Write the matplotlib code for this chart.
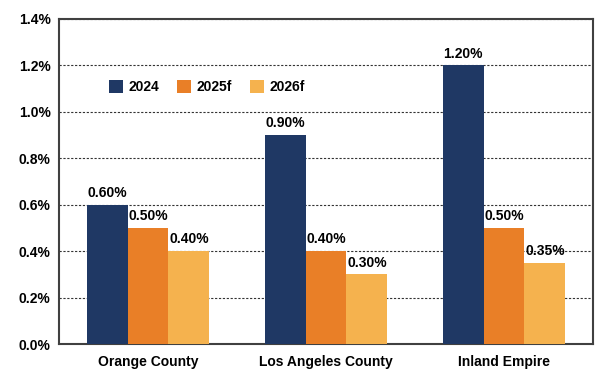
import numpy as np
import matplotlib.pyplot as plt
from matplotlib.ticker import FuncFormatter

plt.rcParams['font.family'] = ['Liberation Sans', 'DejaVu Sans']
plt.rcParams['font.weight'] = 'bold'

regions = ['Orange County', 'Los Angeles County', 'Inland Empire']
years = ['2024', '2025f', '2026f']
v2024 = [0.60, 0.90, 1.20]
v2025 = [0.50, 0.40, 0.50]
v2026 = [0.40, 0.30, 0.35]
colors = ['#1F3864', '#E97F27', '#F5B24E']

fig = plt.figure(figsize=(6.13, 3.82), dpi=100)
ax = fig.add_axes([59/613, 1-344/382, 534/613, 325/382])

x = np.arange(len(regions))
w = 0.23
for i, (vals, lab) in enumerate(zip([v2024, v2025, v2026], years)):
    pos = x + (i - 1) * w
    ax.bar(pos, vals, w, color=colors[i], label=lab, zorder=3)
    for p, v in zip(pos, vals):
        ax.text(p, v + 0.02, f'{v:.2f}%', ha='center', va='bottom',
                fontsize=10, fontweight='bold', zorder=4)

ax.set_xlim(-0.5, 2.5)
ax.set_ylim(0, 1.4)
ax.set_yticks(np.arange(0, 1.41, 0.2))
ax.yaxis.set_major_formatter(FuncFormatter(lambda v, _: f'{v:.1f}%'))
ax.set_xticks(x)
ax.set_xticklabels(regions)
ax.tick_params(axis='both', length=0, labelsize=10, pad=6)
ax.tick_params(axis='x', pad=8)
ax.grid(axis='y', linestyle=(0, (2, 1.5)), color='#333333', linewidth=0.8, zorder=0)
for s in ax.spines.values():
    s.set_color('#404040')
    s.set_linewidth(1.5)

ax.legend(loc='upper left', bbox_to_anchor=(0.07, 0.85), ncol=3, frameon=False,
          handlelength=1.0, handleheight=1.0, columnspacing=1.3, handletextpad=0.4,
          prop={'size': 10, 'weight': 'bold'})

fig.savefig('out.png', dpi=100)
